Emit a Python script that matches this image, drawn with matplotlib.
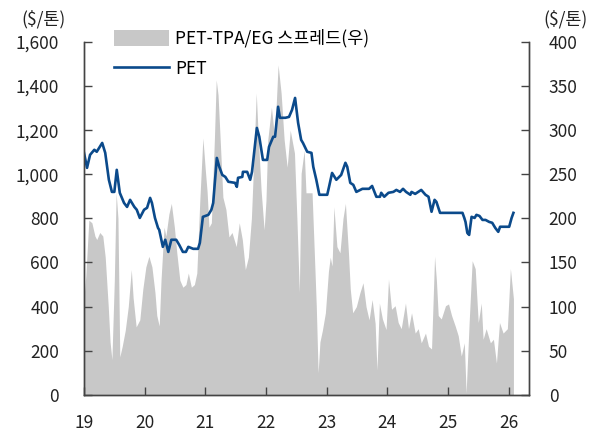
import matplotlib
matplotlib.use("Agg")
import matplotlib.pyplot as plt
from matplotlib.patches import Patch
from matplotlib.lines import Line2D

plt.rcParams['font.family'] = ['Noto Sans CJK KR', 'DejaVu Sans']

# PET price ($/ton, left axis), time in decimal years
pet_t = [2019.00, 2019.05, 2019.10, 2019.17, 2019.21, 2019.30, 2019.35, 2019.41, 2019.46, 2019.50,
         2019.54, 2019.59, 2019.66, 2019.71, 2019.76, 2019.83, 2019.87, 2019.92, 2019.99, 2020.04,
         2020.09, 2020.12, 2020.17, 2020.22, 2020.24, 2020.30, 2020.34, 2020.39, 2020.44, 2020.52,
         2020.57, 2020.63, 2020.68, 2020.72, 2020.80, 2020.88, 2020.91, 2020.96, 2021.05, 2021.10,
         2021.13, 2021.16, 2021.19, 2021.23, 2021.28, 2021.33, 2021.38, 2021.49, 2021.52, 2021.54,
         2021.61, 2021.62, 2021.69, 2021.74, 2021.77, 2021.81, 2021.85, 2021.89, 2021.95, 2022.02,
         2022.05, 2022.12, 2022.15, 2022.20, 2022.23, 2022.32, 2022.38, 2022.43, 2022.48, 2022.53,
         2022.58, 2022.61, 2022.68, 2022.75, 2022.78, 2022.83, 2022.88, 2023.01, 2023.04, 2023.09,
         2023.16, 2023.24, 2023.31, 2023.34, 2023.39, 2023.44, 2023.49, 2023.59, 2023.70, 2023.75,
         2023.82, 2023.88, 2023.90, 2023.95, 2024.02, 2024.10, 2024.15, 2024.21, 2024.26, 2024.31,
         2024.38, 2024.40, 2024.46, 2024.51, 2024.56, 2024.63, 2024.68, 2024.73, 2024.78, 2024.81,
         2024.87, 2025.24, 2025.27, 2025.29, 2025.32, 2025.35, 2025.39, 2025.44, 2025.47, 2025.52,
         2025.57, 2025.62, 2025.68, 2025.73, 2025.78, 2025.83, 2025.86, 2026.01, 2026.05, 2026.08]
pet_v = [1097, 1029, 1088, 1111, 1102, 1142, 1097, 975, 920, 920,
         1020, 916, 870, 852, 884, 852, 839, 802, 839, 848,
         893, 870, 802, 757, 748, 671, 703, 648, 703, 703,
         680, 648, 648, 671, 662, 662, 689, 807, 816, 839,
         870, 975, 1074, 1034, 997, 988, 966, 961, 943, 984,
         988, 1011, 1011, 975, 1011, 1111, 1210, 1170, 1065, 1065,
         1124, 1170, 1170, 1306, 1256, 1256, 1260, 1292, 1346, 1233,
         1156, 1142, 1102, 1097, 1034, 975, 907, 907, 943, 1006,
         975, 997, 1052, 1034, 961, 952, 920, 934, 934, 947,
         898, 898, 916, 898, 916, 920, 929, 920, 934, 920,
         907, 920, 911, 920, 929, 907, 898, 830, 884, 875,
         825, 825, 802, 784, 734, 725, 807, 802, 816, 811,
         793, 793, 784, 780, 757, 739, 762, 762, 802, 825]

# PET-TPA/EG spread ($/ton, right axis)
spread_t = [2019.00, 2019.03, 2019.08, 2019.13, 2019.18, 2019.21, 2019.26, 2019.31, 2019.35, 2019.40,
            2019.43, 2019.46, 2019.50, 2019.53, 2019.56, 2019.59, 2019.63, 2019.68, 2019.73, 2019.78,
            2019.81, 2019.86, 2019.92, 2019.97, 2020.02, 2020.07, 2020.12, 2020.17, 2020.20, 2020.24,
            2020.27, 2020.32, 2020.35, 2020.40, 2020.44, 2020.49, 2020.53, 2020.58, 2020.63, 2020.68,
            2020.72, 2020.77, 2020.82, 2020.86, 2020.91, 2020.96, 2021.00, 2021.03, 2021.06, 2021.10,
            2021.15, 2021.18, 2021.21, 2021.24, 2021.29, 2021.34, 2021.39, 2021.44, 2021.51, 2021.56,
            2021.61, 2021.66, 2021.71, 2021.76, 2021.79, 2021.84, 2021.87, 2021.92, 2021.97, 2022.00,
            2022.03, 2022.09, 2022.14, 2022.17, 2022.20, 2022.25, 2022.30, 2022.35, 2022.40, 2022.47,
            2022.51, 2022.55, 2022.58, 2022.63, 2022.66, 2022.71, 2022.76, 2022.80, 2022.83, 2022.86,
            2022.89, 2022.93, 2022.98, 2023.03, 2023.06, 2023.09, 2023.12, 2023.17, 2023.22, 2023.27,
            2023.31, 2023.36, 2023.39, 2023.43, 2023.49, 2023.55, 2023.60, 2023.65, 2023.70, 2023.75,
            2023.80, 2023.83, 2023.87, 2023.92, 2023.98, 2024.02, 2024.07, 2024.13, 2024.18, 2024.23,
            2024.30, 2024.35, 2024.40, 2024.46, 2024.51, 2024.56, 2024.63, 2024.68, 2024.73, 2024.78,
            2024.81, 2024.84, 2024.89, 2024.96, 2025.01, 2025.06, 2025.12, 2025.17, 2025.22, 2025.27,
            2025.30, 2025.35, 2025.40, 2025.45, 2025.50, 2025.55, 2025.58, 2025.63, 2025.70, 2025.75,
            2025.80, 2025.85, 2025.91, 2025.98, 2026.03, 2026.08]
spread_v = [110, 135, 198, 195, 180, 176, 184, 180, 156, 100,
            60, 40, 130, 229, 200, 43, 55, 73, 100, 142,
            110, 77, 85, 120, 145, 157, 145, 116, 90, 78,
            130, 190, 180, 205, 217, 190, 161, 130, 122, 125,
            138, 122, 125, 138, 221, 291, 255, 230, 190, 195,
            290, 357, 340, 297, 224, 210, 179, 184, 168, 195,
            176, 142, 156, 200, 251, 342, 297, 232, 187, 220,
            289, 326, 293, 330, 374, 342, 289, 258, 300, 274,
            200, 116, 251, 277, 229, 229, 229, 156, 100, 25,
            60, 73, 93, 140, 156, 146, 213, 168, 161, 200,
            217, 161, 120, 93, 100, 116, 127, 100, 85, 108,
            81, 28, 104, 86, 74, 131, 97, 101, 82, 75,
            104, 75, 93, 70, 75, 59, 70, 55, 52, 157,
            130, 90, 86, 101, 103, 90, 78, 67, 44, 59,
            2, 82, 152, 143, 82, 104, 63, 75, 59, 63,
            36, 82, 70, 75, 143, 109]

years = [2019, 2020, 2021, 2022, 2023, 2024, 2025, 2026]
year_labels = ['19', '20', '21', '22', '23', '24', '25', '26']

fig = plt.figure(figsize=(6, 4.32), dpi=100)
ax1 = fig.add_axes([0.14, 0.086, 0.742, 0.817])
ax2 = ax1.twinx()

ax2.fill_between(spread_t, spread_v, 0, color='#c8c8c8', linewidth=0)
ax1.plot(pet_t, pet_v, color='#0b4a8b', linewidth=1.9)

ax1.set_zorder(ax2.get_zorder() + 1)
ax1.patch.set_visible(False)

ax1.set_xlim(2019, 2026.34)
ax1.set_ylim(0, 1600)
ax2.set_ylim(0, 400)
ax1.set_yticks(range(0, 1601, 200))
ax1.set_yticklabels([f'{v:,}' for v in range(0, 1601, 200)])
ax2.set_yticks(range(0, 401, 50))
ax1.set_xticks(years)
ax1.set_xticklabels(year_labels)

for ax in (ax1, ax2):
    ax.spines['top'].set_visible(False)
    for s in ('left', 'right', 'bottom'):
        ax.spines[s].set_color('#444444')
        ax.spines[s].set_linewidth(1.0)
    ax.tick_params(direction='in', length=6, width=1.0, color='#444444',
                   labelsize=12.5, labelcolor='#222222')
ax1.tick_params(axis='x', pad=14)
ax1.tick_params(axis='y', pad=18)
ax2.tick_params(axis='y', pad=14)

fig.text(0.035, 0.955, '($/톤)', fontsize=12.5, color='#222222', va='center')
fig.text(0.905, 0.955, '($/톤)', fontsize=12.5, color='#222222', va='center')

handles = [Patch(facecolor='#c8c8c8', edgecolor='none'),
           Line2D([], [], color='#0b4a8b', linewidth=1.9)]
labels = ['PET-TPA/EG 스프레드(우)', 'PET']
fig.legend(handles, labels, loc='upper left', bbox_to_anchor=(0.178, 0.948),
           frameon=False, fontsize=12.5, handlelength=3.2, handleheight=1.0,
           handletextpad=0.35, labelspacing=0.7, borderaxespad=0)

fig.savefig('out.png', dpi=100)
